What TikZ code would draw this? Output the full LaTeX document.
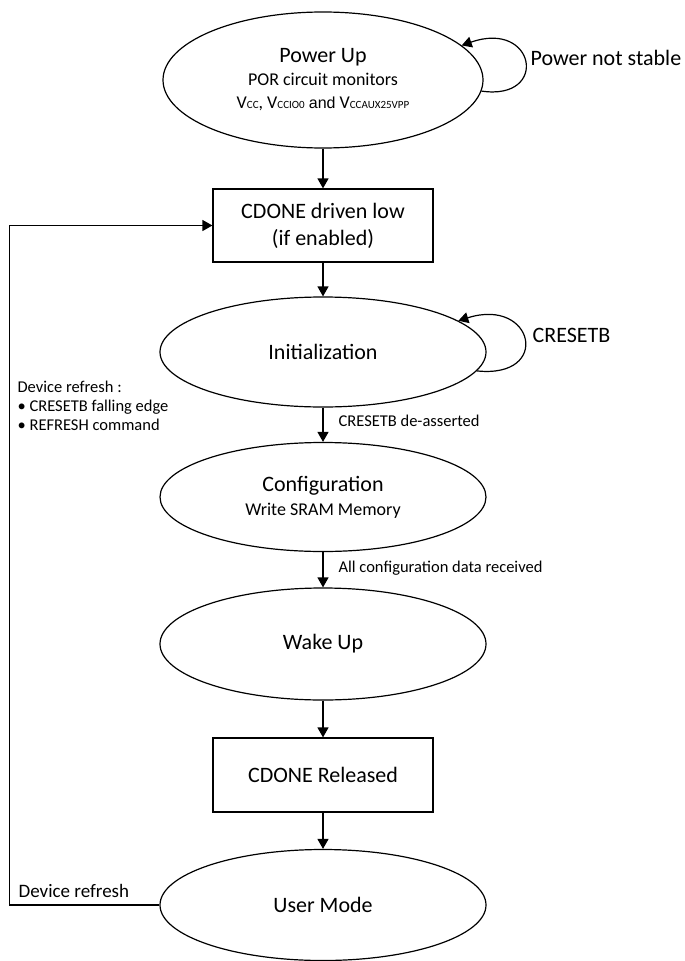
\documentclass[tikz,border=0pt]{standalone}
\usepackage{fontspec}
\setmainfont{Carlito}
\newfontfamily\arialish{Liberation Sans}
\usetikzlibrary{shapes.geometric,arrows.meta}
\newcommand\lowcaps[1]{{\fontsize{11}{11}\selectfont #1}}
\begin{document}
\begin{tikzpicture}[x=1pt,y=-1pt,
  line width=1.2pt,
  state/.style={ellipse,draw,minimum width=326pt,minimum height=110pt,inner sep=0pt,align=center,font=\fontsize{22}{26}\selectfont},
  stepbox/.style={rectangle,draw,minimum width=220pt,minimum height=74pt,inner sep=0pt,align=center,font=\fontsize{22}{27}\selectfont},
  arr/.style={-{Triangle[length=10pt,width=11pt]}},
  lbl/.style={font=\fontsize{16.5}{19}\selectfont,inner sep=0pt},
  big/.style={font=\fontsize{22}{26}\selectfont,inner sep=0pt}
]
\useasboundingbox (0,0) rectangle (685,961);

\node[state,minimum width=320pt,minimum height=136pt,font=\fontsize{18}{23}\selectfont] (pu) at (323,80)
  {{\fontsize{22}{26}\selectfont Power Up}\\ POR circuit monitors\\ V\lowcaps{CC}, V\lowcaps{CCIO0} {\arialish\fontsize{16}{20}\selectfont and} V\lowcaps{CCAUX25VPP}};
\node[stepbox,minimum height=73pt] (cl) at (323,225.5) {CDONE driven low\\(if enabled)};
\node[state] (init) at (323,352) {Initialization};
\node[state,minimum height=109pt,font=\fontsize{18}{24}\selectfont] (cfg) at (323,497)
  {{\fontsize{22}{26}\selectfont Configuration}\\ Write SRAM Memory};
\node[state,minimum height=112pt] (wake) at (323,644) {Wake Up};
\node[stepbox] (rel) at (323,775) {CDONE Released};
\node[state,minimum height=111pt] (user) at (323,905) {User Mode};

% side labels
\node[big,anchor=west] (pns) at (530,58) {Power not stable};
\node[big,anchor=west] (crst) at (532,335) {CRESETB};
\node[lbl,anchor=north west,align=left] (devr) at (17,380)
  {Device refresh :\\ • CRESETB falling edge\\ • REFRESH command};
\node[lbl,anchor=west,font=\fontsize{19}{22}\selectfont] (devr2) at (18,891) {Device refresh};

% main flow
\draw[arr] (pu) -- (cl);
\draw[arr] (cl) -- (init);
\draw[arr] (init) -- (cfg) node[lbl,midway,anchor=west,xshift=15pt,yshift=4pt] {CRESETB de-asserted};
\draw[arr] (cfg) -- (wake) node[lbl,midway,anchor=west,xshift=15pt,yshift=2pt] {All configuration data received};
\draw[arr] (wake) -- (rel);
\draw[arr] (rel) -- (user);

% self loops
\draw[arr] (pu.-4) .. controls +(68,10) and +(74,-26) .. (pu.14);
\draw[arr] (init.-7) .. controls +(75,8) and +(76,-24) .. (init.13);

% refresh path
\draw[arr] (user.west) -- ++(-150,0) |- (cl.west);
\end{tikzpicture}
\end{document}
